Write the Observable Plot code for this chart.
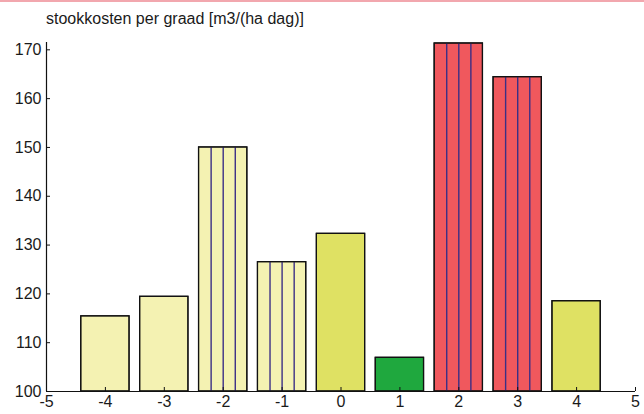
<!DOCTYPE html>
<html>
<head>
<meta charset="utf-8">
<script src="https://cdn.jsdelivr.net/npm/d3@7"></script>
<script src="https://cdn.jsdelivr.net/npm/@observablehq/plot@0.6"></script>
<style>
  html, body { margin: 0; padding: 0; background: #fff; }
  #title { height: 32px; box-sizing: border-box; border-top: 2px solid #f2a7ae;
    padding: 8px 0 0 46px; font: 16px "Liberation Sans", Arial, sans-serif; line-height: 18px; color: #1a1a1a; }
  svg { display: block; }
</style>
</head>
<body>
<div id="title">stookkosten per graad [m3/(ha dag)]</div>
<div id="chart"></div>
<script>
const categories = [-4, -3, -2, -1, 0, 1, 2, 3, 4];
const values = [115.4, 119.4, 150.0, 126.5, 132.3, 106.9, 171.3, 164.4, 118.5];
const colors = ["#f4f2b2", "#f4f2b2", "#f4f2b2", "#f4f2b2", "#dfe163", "#1fa83e", "#f0585d", "#f0585d", "#dfe163"];
const striped = [false, false, true, true, false, false, true, true, false];
const xTicks = [-5, -4, -3, -2, -1, 0, 1, 2, 3, 4, 5];
const yTicks = [100, 110, 120, 130, 140, 150, 160, 170];

const halfW = 0.41;
const data = categories.map((c, i) => ({x: c, v: values[i], fill: colors[i], striped: striped[i]}));
const stripes = data.filter(d => d.striped).flatMap(d => [-0.5, 0, 0.5].map(k => ({x: d.x + k * halfW, v: d.v})));

const font = '"Liberation Sans", Arial, sans-serif';
const chart = Plot.plot({
  width: 644,
  height: 382,
  marginTop: 10,
  marginBottom: 23,
  marginLeft: 46,
  marginRight: 9,
  style: {fontFamily: font, fontSize: "16px", color: "#1a1a1a", background: "#fff"},
  x: {domain: [-5, 5]},
  y: {domain: [100, 171.5]},
  marks: [
    Plot.rect(data, {x1: d => d.x - halfW, x2: d => d.x + halfW, y1: () => 100, y2: "v", fill: "fill", stroke: "#111", strokeWidth: 1.2}),
    Plot.ruleX(stripes, {x: "x", y1: () => 100, y2: "v", stroke: "#3b2f86", strokeWidth: 1.4}),
    Plot.rect(data, {x1: d => d.x - halfW, x2: d => d.x + halfW, y1: () => 100, y2: "v", fill: "none", stroke: "#111", strokeWidth: 1.2}),
    Plot.axisX({ticks: xTicks, tickSize: -4, tickPadding: 8, tickFormat: d => d, label: null, stroke: "#111"}),
    Plot.axisY({ticks: yTicks, tickSize: -4, tickPadding: 9, tickFormat: d => d, label: null, stroke: "#111"}),
    Plot.ruleY([100], {stroke: "#111", strokeWidth: 1.2}),
    Plot.ruleX([-5], {stroke: "#111", strokeWidth: 1.2})
  ]
});
document.getElementById("chart").appendChild(chart);
</script>
</body>
</html>
